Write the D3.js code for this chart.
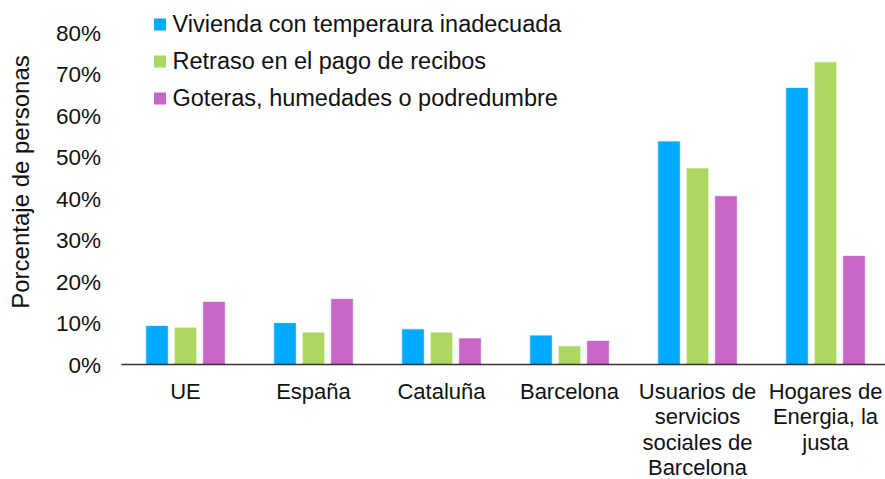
<!DOCTYPE html>
<html>
<head>
<meta charset="utf-8">
<script src="https://cdnjs.cloudflare.com/ajax/libs/d3/7.8.5/d3.min.js"></script>
<style>
  body { margin: 0; background: #fff; }
  text { font-family: "Liberation Sans", Arial, sans-serif; fill: #111; }
</style>
</head>
<body>
<div class="svg-container"></div>
<script>
// categories (line breaks as in the original labels)
const categories = [
  ['UE'],
  ['España'],
  ['Cataluña'],
  ['Barcelona'],
  ['Usuarios de', 'servicios', 'sociales de', 'Barcelona'],
  ['Hogares de', 'Energia, la', 'justa']
];
const seriesNames = [
  'Vivienda con temperaura inadecuada',
  'Retraso en el pago de recibos',
  'Goteras, humedades o podredumbre'
];
const seriesColours = ['#00aaff', '#acd862', '#c766c6'];

// values in %, one array per series
const temperatura = [9.4, 10.1, 8.6, 7.1, 53.9, 66.8];
const retraso = [9.0, 7.8, 7.8, 4.5, 47.4, 73.0];
const goteras = [15.2, 15.9, 6.4, 5.8, 40.7, 26.3];

const yTicks = [0, 10, 20, 30, 40, 50, 60, 70, 80];

function renderBarChart() {

  // set up required dimensions
  const width = 885;
  const height = 479;

  const svg = d3.select('.svg-container')
    .append('svg')
    .attr('width', width)
    .attr('height', height)

  const catKeys = categories.map(c => c.join(' '));
  const values = [temperatura, retraso, goteras];

  const x0 = d3.scaleBand()
    .domain(catKeys)
    .range([121.5, 889.5])

  const x1 = d3.scaleBand()
    .domain(seriesNames)
    .range([0, x0.bandwidth()])
    .paddingInner(0.21)
    .paddingOuter(0.85)

  const y = d3.scaleLinear()
    .domain([0, 80])
    .range([364.5, 32.8])

  // y tick labels only, no axis line
  svg.selectAll('.ytick')
    .data(yTicks)
    .enter()
    .append('text')
    .attr('class', 'ytick')
    .attr('x', 101)
    .attr('y', d => y(d))
    .attr('dy', '0.36em')
    .attr('text-anchor', 'end')
    .style('font-size', '22.5px')
    .text(d => d + '%')

  // bars
  seriesNames.forEach((s, i) => {
    svg.selectAll('.bar-' + i)
      .data(values[i])
      .enter()
      .append('rect')
      .attr('x', (d, j) => x0(catKeys[j]) + x1(s))
      .attr('y', d => y(d))
      .attr('width', x1.bandwidth())
      .attr('height', d => y(0) - y(d))
      .style('fill', seriesColours[i])
      .style('stroke', '#fff')
      .style('stroke-opacity', 0.7)
      .style('stroke-width', 1)
  });

  // x axis line
  svg.append('line')
    .attr('x1', 121.5)
    .attr('x2', width)
    .attr('y1', y(0))
    .attr('y2', y(0))
    .style('stroke', '#333')
    .style('stroke-width', 1.5)

  // category labels
  const labels = svg.selectAll('.xlabel')
    .data(categories)
    .enter()
    .append('text')
    .attr('class', 'xlabel')
    .attr('text-anchor', 'middle')
    .style('font-size', '22px')

  labels.selectAll('tspan')
    .data((d, j) => d.map(line => ({ line, j })))
    .enter()
    .append('tspan')
    .attr('x', d => x0(catKeys[d.j]) + x0.bandwidth() / 2)
    .attr('y', (d, k) => 398.5 + k * 25.5)
    .text(d => d.line)

  // y title
  svg.append('text')
    .attr('transform', 'translate(29,182) rotate(-90)')
    .attr('text-anchor', 'middle')
    .style('font-size', '24px')
    .text('Porcentaje de personas')

  // legend
  const legend = svg.selectAll('.legend')
    .data(seriesNames)
    .enter()
    .append('g')
    .attr('class', 'legend')
    .attr('transform', (d, i) => `translate(154,${32 + i * 37})`)

  legend.append('rect')
    .attr('x', 0)
    .attr('y', -13.5)
    .attr('width', 12)
    .attr('height', 12)
    .style('fill', (d, i) => seriesColours[i])

  legend.append('text')
    .attr('x', 18.5)
    .attr('y', 0)
    .style('font-size', '23.5px')
    .text(d => d)
}

renderBarChart();
</script>
</body>
</html>
